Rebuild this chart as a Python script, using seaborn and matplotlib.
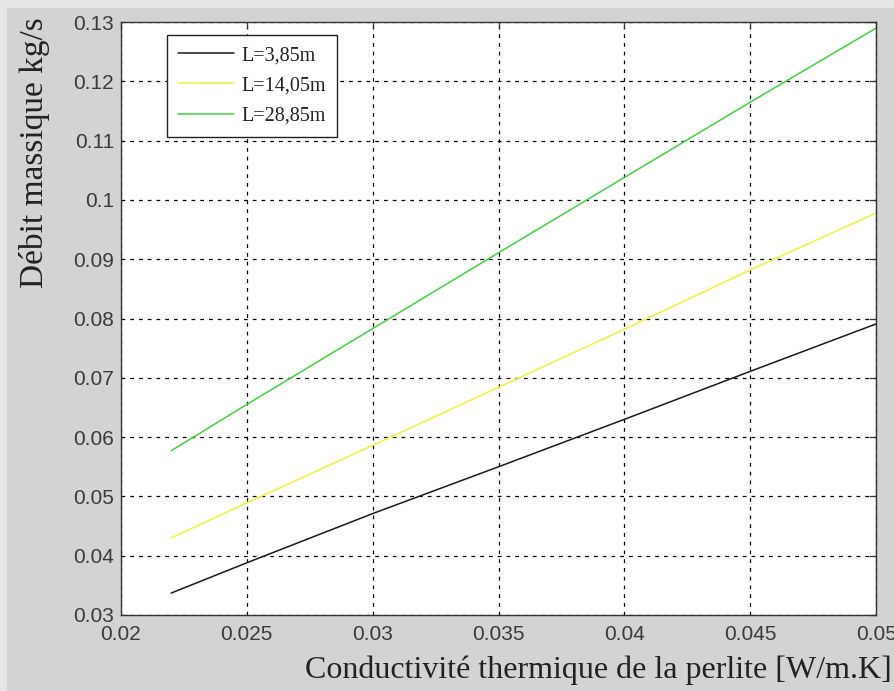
import numpy as np
import pandas as pd
import matplotlib
matplotlib.use("Agg")
import matplotlib.pyplot as plt
import matplotlib.patches as mpatches
import seaborn as sns

# Data
conductivity = [0.022, 0.025, 0.030, 0.035, 0.040, 0.045, 0.050]
flow_L385 = [0.0337, 0.0388, 0.0471, 0.0550, 0.0630, 0.0711, 0.0791]
flow_L1405 = [0.0430, 0.0489, 0.0586, 0.0684, 0.0782, 0.0882, 0.0978]
flow_L2885 = [0.0577, 0.0655, 0.0783, 0.0911, 0.1038, 0.1165, 0.1290]
series_labels = ["L=3,85m", "L=14,05m", "L=28,85m"]
x_ticks = [0.02, 0.025, 0.03, 0.035, 0.04, 0.045, 0.05]
x_tick_labels = ["0.02", "0.025", "0.03", "0.035", "0.04", "0.045", "0.05"]
y_ticks = [0.03, 0.04, 0.05, 0.06, 0.07, 0.08, 0.09, 0.1, 0.11, 0.12, 0.13]
y_tick_labels = ["0.03", "0.04", "0.05", "0.06", "0.07", "0.08", "0.09", "0.1", "0.11", "0.12", "0.13"]

rows = []
for lab, vals in zip(series_labels, [flow_L385, flow_L1405, flow_L2885]):
    for xv, yv in zip(conductivity, vals):
        rows.append({"k": xv, "m": yv, "serie": lab})
df = pd.DataFrame(rows)

sns.set_theme(style="white")
plt.rcParams["font.family"] = ["Liberation Sans", "DejaVu Sans"]

fig = plt.figure(figsize=(8.95, 6.91), dpi=100, facecolor="#d3d3d3")
# lighter window frame on top / left edges
fig.patches.append(mpatches.Rectangle((0, 0.988), 1, 0.012, transform=fig.transFigure,
                                      facecolor="#e6e6e6", edgecolor="none", zorder=0))
fig.patches.append(mpatches.Rectangle((0, 0), 0.008, 1, transform=fig.transFigure,
                                      facecolor="#e6e6e6", edgecolor="none", zorder=0))

ax = fig.add_axes([0.135, 0.110, 0.844, 0.858])
ax.set_facecolor("white")

palette = {"L=3,85m": "#1a1a1a", "L=14,05m": "#f0f03c", "L=28,85m": "#45cf45"}
sns.lineplot(data=df, x="k", y="m", hue="serie", palette=palette, ax=ax,
             linewidth=1.1, legend=True, sort=False)

ax.set_xlim(0.02, 0.05)
ax.set_ylim(0.03, 0.13)
ax.set_xticks(x_ticks)
ax.set_xticklabels(x_tick_labels)
ax.set_yticks(y_ticks)
ax.set_yticklabels(y_tick_labels)

ax.grid(True, color="black", linestyle=(0, (3, 4)), linewidth=0.9)
for s in ax.spines.values():
    s.set_visible(True)
    s.set_color("#333333")
    s.set_linewidth(1.0)

ax.tick_params(axis="both", direction="in", length=5, width=0.9, color="#333333",
               top=True, right=True, labelsize=15, labelcolor="#3a3a3a")
ax.tick_params(axis="x", pad=7)
ax.tick_params(axis="y", pad=5)

ax.set_xlabel("Conductivité thermique de la perlite [W/m.K]", family="Liberation Serif",
              fontsize=23, color="#222222")
ax.xaxis.set_label_coords(0.632, -0.068)
ax.set_ylabel("Débit massique kg/s", family="Liberation Serif", fontsize=24, color="#222222")
ax.yaxis.set_label_coords(-0.094, 0.78)

leg = ax.legend(loc="upper left", bbox_to_anchor=(0.061, 0.978), frameon=True,
                fancybox=False, edgecolor="#222222", framealpha=1, borderaxespad=0,
                prop={"family": "Liberation Serif", "size": 14.5},
                handlelength=2.8, handletextpad=0.35, borderpad=0.55, labelspacing=0.55)
leg.get_frame().set_linewidth(1.0)
for t in leg.get_texts():
    t.set_color("#222222")

fig.savefig("out.png", dpi=100, facecolor=fig.get_facecolor())
